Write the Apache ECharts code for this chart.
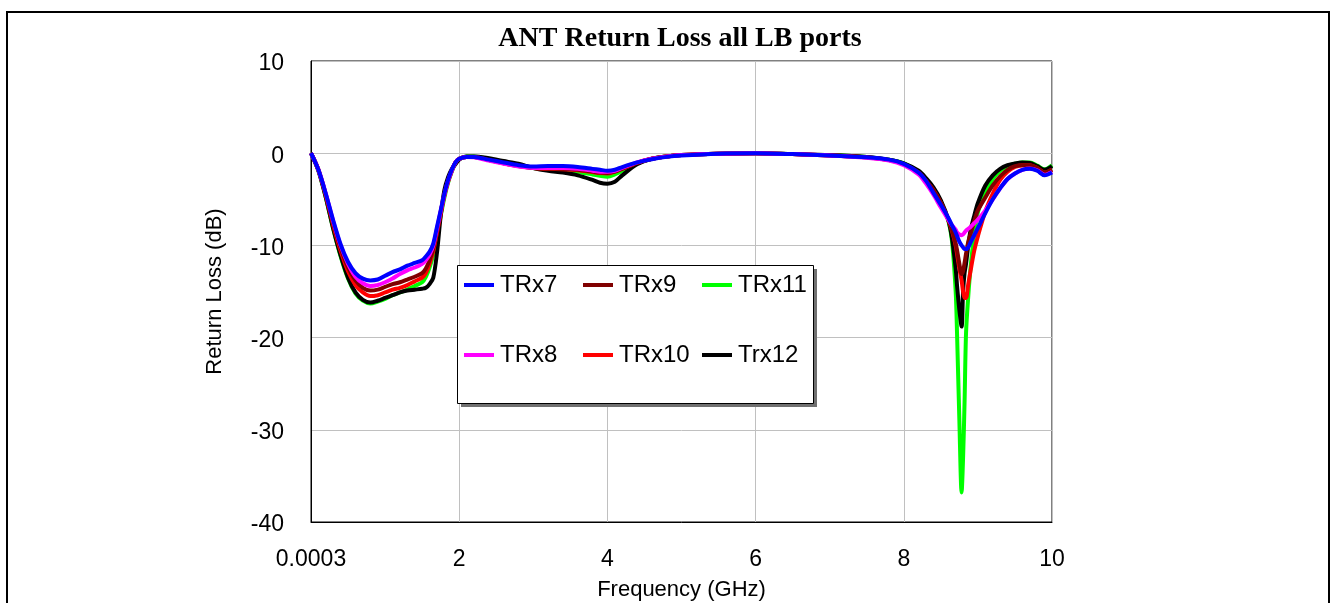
<!DOCTYPE html>
<html>
<head>
<meta charset="utf-8">
<script src="https://cdn.jsdelivr.net/npm/echarts@6/dist/echarts.min.js"></script>
<style>
html,body{margin:0;padding:0;background:#fff;}
#chart{width:1331px;height:603px;}
</style>
</head>
<body>
<div id="chart"></div>
<script>
// Frequency (GHz)
const freq = [
  0.0003, 0.1, 0.2, 0.3, 0.4, 0.5, 0.6, 0.7, 0.8, 0.9,
  1.0, 1.1, 1.2, 1.3, 1.4, 1.5, 1.55, 1.6, 1.65, 1.7,
  1.75, 1.8, 1.85, 1.9, 1.95, 2.0, 2.1, 2.2, 2.4, 2.6,
  2.8, 3.0, 3.2, 3.4, 3.6, 3.8, 3.9, 4.0, 4.1, 4.2,
  4.4, 4.6, 4.8, 5.0, 5.5, 6.0, 6.5, 7.0, 7.5, 7.8,
  8.0, 8.2, 8.3, 8.4, 8.5, 8.6, 8.65, 8.7, 8.72, 8.75,
  8.78, 8.8, 8.82, 8.84, 8.87, 8.9, 8.95, 9.0, 9.1, 9.2,
  9.3, 9.4, 9.5, 9.6, 9.7, 9.8, 9.9, 10.0
];
const trx7 = [
  0, -1.8, -4.4, -7.3, -9.9, -11.8, -13.0, -13.6, -13.8, -13.7,
  -13.3, -12.9, -12.6, -12.2, -11.9, -11.6, -11.2, -10.7, -9.8, -8.0,
  -6.2, -4.4, -2.9, -1.8, -1.0, -0.6, -0.4, -0.4, -0.7, -1.0,
  -1.3, -1.45, -1.4, -1.4, -1.5, -1.7, -1.8, -1.9, -1.8, -1.5,
  -1.0, -0.65, -0.4, -0.25, -0.05, 0.0, -0.1, -0.25, -0.45, -0.7,
  -1.15, -2.1, -3.0, -4.3, -5.6, -7.0, -7.8, -8.6, -9.0, -9.6,
  -10.0, -10.2, -10.4, -10.4, -10.2, -9.7, -8.9, -8.1, -6.5, -5.0,
  -3.8, -2.8, -2.2, -1.8, -1.7, -1.9, -2.4, -2.1
];
const trx8 = [
  0, -1.8, -4.4, -7.4, -10.0, -12.0, -13.4, -14.1, -14.4, -14.3,
  -14.0, -13.6, -13.1, -12.7, -12.4, -12.0, -11.6, -11.0, -10.0, -8.2,
  -6.3, -4.5, -3.0, -1.9, -1.0, -0.6, -0.4, -0.45, -0.8, -1.15,
  -1.45, -1.6, -1.6, -1.6, -1.7, -1.9, -2.0, -2.0, -1.9, -1.6,
  -1.0, -0.6, -0.35, -0.2, -0.05, 0.0, -0.1, -0.25, -0.5, -0.8,
  -1.3, -2.3, -3.3, -4.5, -5.9, -7.2, -7.8, -8.3, -8.6, -8.8,
  -8.9, -8.8, -8.6, -8.4, -8.2, -8.0, -7.6, -7.2, -6.2, -5.0,
  -3.8, -2.8, -2.2, -1.8, -1.65, -1.85, -2.35, -2.05
];
const trx9 = [
  0, -1.8, -4.5, -7.6, -10.3, -12.4, -13.8, -14.6, -14.9, -14.8,
  -14.5, -14.2, -14.0, -13.7, -13.4, -13.0, -12.5, -11.6, -10.3, -8.4,
  -6.4, -4.5, -3.0, -1.9, -1.0, -0.6, -0.4, -0.4, -0.75, -1.1,
  -1.4, -1.6, -1.65, -1.7, -1.8, -2.0, -2.1, -2.15, -2.0, -1.7,
  -1.05, -0.6, -0.35, -0.2, -0.05, 0.0, -0.1, -0.25, -0.45, -0.75,
  -1.2, -2.1, -3.0, -4.0, -5.4, -7.2, -8.3, -9.8, -10.6, -12.0,
  -13.1, -12.8, -11.9, -10.9, -9.6, -8.8, -7.4, -6.2, -4.8, -3.5,
  -2.5, -1.8, -1.4, -1.3, -1.3, -1.6, -2.1, -1.8
];
const trx10 = [
  0, -1.8, -4.6, -7.8, -10.6, -12.8, -14.3, -15.1, -15.5, -15.4,
  -15.1, -14.8, -14.6, -14.3, -13.9, -13.5, -13.0, -12.0, -10.6, -8.6,
  -6.6, -4.6, -3.1, -1.9, -1.0, -0.6, -0.4, -0.4, -0.75, -1.1,
  -1.4, -1.6, -1.7, -1.75, -1.85, -2.05, -2.15, -2.2, -2.0, -1.7,
  -1.05, -0.6, -0.35, -0.2, -0.05, 0.0, -0.1, -0.25, -0.45, -0.75,
  -1.2, -2.1, -3.0, -4.0, -5.4, -7.2, -8.4, -10.0, -11.0, -12.5,
  -13.8, -15.0, -15.7, -15.7, -14.2, -12.8, -10.6, -9.0, -6.3, -4.4,
  -2.9, -2.0, -1.5, -1.3, -1.3, -1.6, -2.1, -1.8
];
const trx11 = [
  0, -1.9, -4.8, -8.2, -11.2, -13.6, -15.2, -16.0, -16.3, -16.1,
  -15.8, -15.4, -15.1, -14.8, -14.4, -14.0, -13.4, -12.4, -11.0, -8.9,
  -6.8, -4.8, -3.2, -2.0, -1.1, -0.6, -0.35, -0.35, -0.6, -0.95,
  -1.25, -1.6, -1.8, -1.95, -2.05, -2.3, -2.45, -2.55, -2.3, -1.9,
  -1.1, -0.6, -0.35, -0.2, -0.05, 0.0, -0.1, -0.2, -0.4, -0.7,
  -1.1, -2.0, -2.9, -3.9, -5.3, -7.3, -9.5, -15.0, -20.0, -29.0,
  -36.8, -33.0, -27.0, -19.5, -15.5, -12.5, -8.8, -6.4, -4.2, -2.8,
  -1.9, -1.4, -1.15, -1.0, -1.0, -1.35, -1.75, -1.3
];
const trx12 = [
  0, -1.9, -4.8, -8.2, -11.1, -13.5, -15.1, -15.9, -16.2, -16.0,
  -15.7, -15.4, -15.1, -14.9, -14.8, -14.7, -14.6, -14.2, -13.5, -10.8,
  -6.8, -4.0, -2.6, -1.7, -1.2, -0.7, -0.35, -0.35, -0.55, -0.85,
  -1.15, -1.6, -1.9, -2.1, -2.4, -2.9, -3.2, -3.3, -3.1, -2.4,
  -1.2, -0.6, -0.35, -0.2, -0.05, 0.0, -0.1, -0.2, -0.4, -0.7,
  -1.1, -1.9, -2.7, -3.7, -5.1, -7.2, -9.2, -12.5, -14.5, -17.0,
  -18.8, -15.0, -13.0, -12.0, -10.0, -8.4, -6.8, -5.4, -3.5, -2.4,
  -1.7, -1.3, -1.1, -1.0, -1.05, -1.4, -1.8, -1.4
];
const xTickLabels = ['0.0003', '2', '4', '6', '8', '10'];
const yTickLabels = ['-40', '-30', '-20', '-10', '0', '10'];

function pairs(ys){ return freq.map((f, i) => [f, ys[i]]); }

const seriesDefs = [
  // bottom to top drawing order
  {name: 'TRx11', color: '#00FF00', data: trx11},
  {name: 'Trx12', color: '#000000', data: trx12},
  {name: 'TRx10', color: '#FF0000', data: trx10},
  {name: 'TRx9',  color: '#800000', data: trx9},
  {name: 'TRx8',  color: '#FF00FF', data: trx8},
  {name: 'TRx7',  color: '#0000FF', data: trx7}
];

const legendCells = [
  {name: 'TRx7', left: 464, top: 273},
  {name: 'TRx9', left: 583, top: 273},
  {name: 'TRx11', left: 702, top: 273},
  {name: 'TRx8', left: 464, top: 343},
  {name: 'TRx10', left: 583, top: 343},
  {name: 'Trx12', left: 702, top: 343}
];

const FONT = '"Liberation Sans", Arial, sans-serif';

const chart = echarts.init(document.getElementById('chart'), null, {renderer: 'canvas'});
chart.setOption({
  animation: false,
  backgroundColor: '#ffffff',
  grid: {left: 311, top: 61, right: 279, bottom: 81, show: true, borderColor: '#000', borderWidth: 1,
    containLabel: false, outerBoundsMode: 'none'},
  xAxis: {
    type: 'value', min: 0, max: 10, interval: 2,
    name: 'Frequency (GHz)', nameLocation: 'middle', nameGap: 57,
    nameTextStyle: {fontFamily: FONT, fontSize: 22, color: '#000'},
    axisLine: {show: true, onZero: false, lineStyle: {color: '#000', width: 1}},
    axisTick: {show: false},
    axisLabel: {margin: 26, fontFamily: FONT, fontSize: 23, color: '#000',
      formatter: (v, i) => xTickLabels[i]},
    splitLine: {show: true, lineStyle: {color: '#c0c0c0', width: 1}}
  },
  yAxis: {
    type: 'value', min: -40, max: 10, interval: 10,
    name: 'Return Loss (dB)', nameLocation: 'middle', nameGap: 85,
    nameTextStyle: {fontFamily: FONT, fontSize: 22, color: '#000'},
    axisLine: {show: true, lineStyle: {color: '#000', width: 1}},
    axisTick: {show: false},
    axisLabel: {margin: 27, color: '#000',
      formatter: (v, i) => '{t|' + yTickLabels[i] + '}',
      rich: {t: {fontFamily: FONT, fontSize: 23, color: '#000', padding: [6, 0, 0, 0]}}},
    splitLine: {show: true, lineStyle: {color: '#c0c0c0', width: 1}}
  },
  legend: legendCells.map(c => ({
    data: [c.name], left: c.left, top: c.top, padding: 0, z: 10,
    icon: 'rect', itemWidth: 30, itemHeight: 4, itemGap: 0,
    textStyle: {fontFamily: FONT, fontSize: 24, color: '#000', lineHeight: 24, padding: [0,0,0,1]},
    selectedMode: false
  })),
  graphic: [
    {type: 'rect', z: 5, shape: {x: 7, y: 12, width: 1322, height: 600},
      style: {fill: 'none', stroke: '#000', lineWidth: 2}},
    {type: 'rect', z: 5, shape: {x: 461, y: 269, width: 356, height: 138},
      style: {fill: '#707070'}},
    {type: 'rect', z: 6, shape: {x: 457.5, y: 265.5, width: 356, height: 138},
      style: {fill: '#fff', stroke: '#000', lineWidth: 1}},
    {type: 'text', z: 6, style: {text: 'ANT Return Loss all LB ports', x: 680, y: 39,
      textAlign: 'center', textVerticalAlign: 'middle',
      font: 'bold 28px "Liberation Serif", "Times New Roman", serif', fill: '#000'}}
  ],
  series: seriesDefs.map((s, k) => ({
    name: s.name, type: 'line', data: pairs(s.data),
    showSymbol: false, symbol: 'none', smooth: 0.3, z: 2 + k * 0.01,
    lineStyle: {color: s.color, width: 4},
    itemStyle: {color: s.color}
  }))
});
</script>
</body>
</html>
